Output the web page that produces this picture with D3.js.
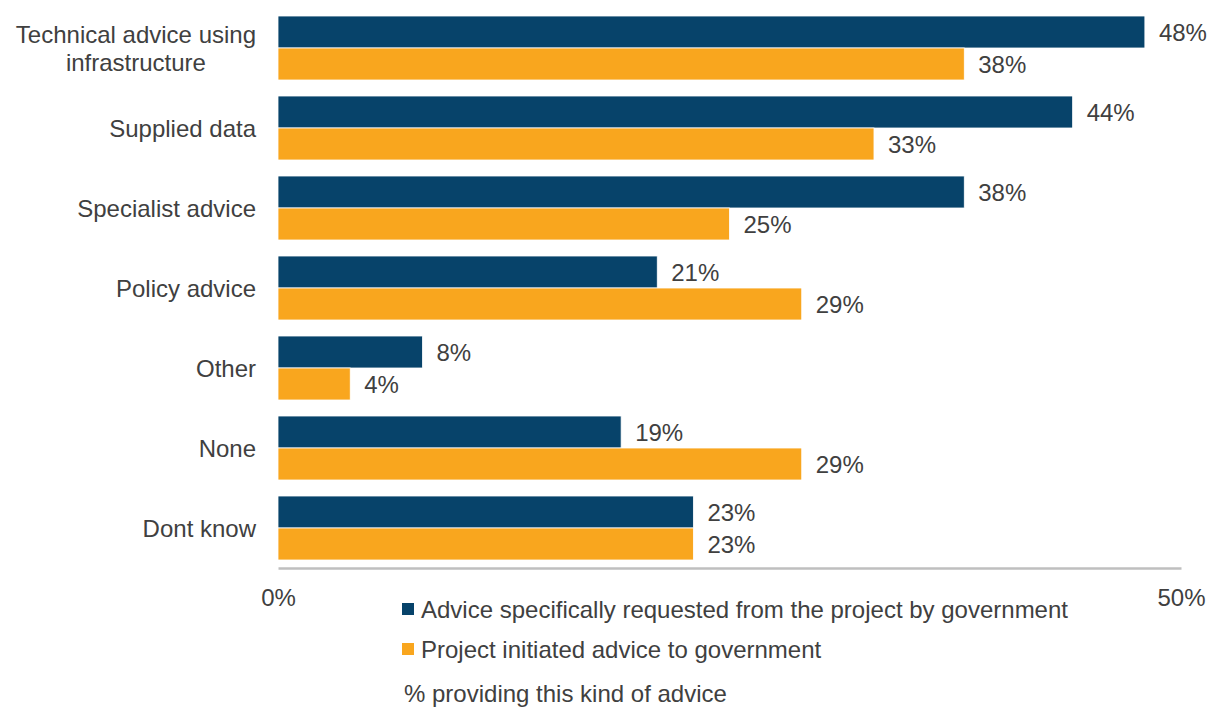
<!DOCTYPE html>
<html>
<head>
<meta charset="utf-8">
<script src="https://cdn.jsdelivr.net/npm/d3@7"></script>
<style>
  html, body { margin: 0; padding: 0; background: #ffffff; }
  svg { display: block; font-family: "Liberation Sans", Arial, sans-serif; }
</style>
</head>
<body>
<svg id="chart" width="1208" height="707"></svg>
<script>
// Kinds of advice provided to government
const categories = [
  ["Technical advice using", "infrastructure"],
  ["Supplied data"],
  ["Specialist advice"],
  ["Policy advice"],
  ["Other"],
  ["None"],
  ["Dont know"]
];
const seriesNames = [
  "Advice specifically requested from the project by government",
  "Project initiated advice to government"
];
const requestedValues = [48, 44, 38, 21, 8, 19, 23];
const initiatedValues = [38, 33, 25, 29, 4, 29, 23];
const tickValues = [0, 50];
const axisTitle = "% providing this kind of advice";

const colors = ["#07436a", "#f9a61e"];
const textColor = "#404040";
const fontSize = 24;

const svg = d3.select("#chart");
const keys = categories.map((c, i) => i);
const series = [requestedValues, initiatedValues];

const x = d3.scaleLinear().domain([0, 50]).range([278, 1181]);
const y = d3.scaleBand().domain(keys).range([8, 568]).paddingInner(0.2).paddingOuter(0.1);
const ySub = d3.scaleBand().domain([0, 1]).range([0, y.bandwidth()]);

// Bars
const groups = svg.append("g").selectAll("g")
  .data(keys).join("g")
  .attr("transform", k => `translate(0,${y(k)})`);

groups.selectAll("rect")
  .data(k => series.map((vals, s) => ({ s, v: vals[k] })))
  .join("rect")
  .attr("x", x(0))
  .attr("y", d => ySub(d.s))
  .attr("width", d => x(d.v) - x(0))
  .attr("height", ySub.bandwidth())
  .attr("fill", d => colors[d.s])
  .attr("stroke", "#ffffff")
  .attr("stroke-width", 0.8);

// Value labels
groups.selectAll("text.val")
  .data(k => series.map((vals, s) => ({ s, v: vals[k] })))
  .join("text")
  .attr("class", "val")
  .attr("x", d => x(d.v) + 14)
  .attr("y", d => ySub(d.s) + ySub.bandwidth() / 2)
  .attr("dy", "0.36em")
  .attr("font-size", fontSize)
  .attr("fill", textColor)
  .text(d => d.v + "%");

// Category labels (multi-line labels are centred on their widest line)
const labelRight = 256;
const catLabels = svg.append("g").selectAll("text")
  .data(keys).join("text")
  .attr("font-size", fontSize)
  .attr("fill", textColor);

catLabels.each(function (k) {
  const lines = categories[k];
  const t = d3.select(this);
  const lineH = 28;
  const cy = y(k) + y.bandwidth() / 2;
  const spans = lines.map((line, i) => t.append("tspan")
    .attr("y", cy + (i - (lines.length - 1) / 2) * lineH)
    .attr("dy", "0.36em")
    .text(line));
  if (lines.length === 1) {
    t.attr("text-anchor", "end");
    spans[0].attr("x", labelRight);
  } else {
    const maxW = d3.max(spans, s => s.node().getComputedTextLength());
    t.attr("text-anchor", "middle");
    spans.forEach(s => s.attr("x", labelRight - maxW / 2));
  }
});

// Horizontal axis
const axis = svg.append("g")
  .attr("transform", `translate(0,${568})`)
  .call(d3.axisBottom(x).tickValues(tickValues).tickFormat(d => d + "%").tickSize(0).tickPadding(21));
axis.select(".domain").attr("stroke", "#bfbfbf").attr("stroke-width", 2.5);
axis.selectAll("text")
  .attr("font-family", "Liberation Sans, Arial, sans-serif")
  .attr("font-size", fontSize)
  .attr("fill", textColor);

// Legend
const legend = svg.append("g").attr("transform", "translate(402,603)");
const items = legend.selectAll("g").data(seriesNames).join("g")
  .attr("transform", (d, i) => `translate(0,${i * 40})`);
items.append("rect")
  .attr("width", 12).attr("height", 12)
  .attr("fill", (d, i) => colors[i]);
items.append("text")
  .attr("x", 19).attr("y", 6).attr("dy", "0.36em")
  .attr("font-size", fontSize).attr("fill", textColor)
  .text(d => d);

// Axis title
svg.append("text")
  .attr("x", 404).attr("y", 693).attr("dy", "0.36em")
  .attr("font-size", fontSize).attr("fill", textColor)
  .text(axisTitle);
</script>
</body>
</html>
